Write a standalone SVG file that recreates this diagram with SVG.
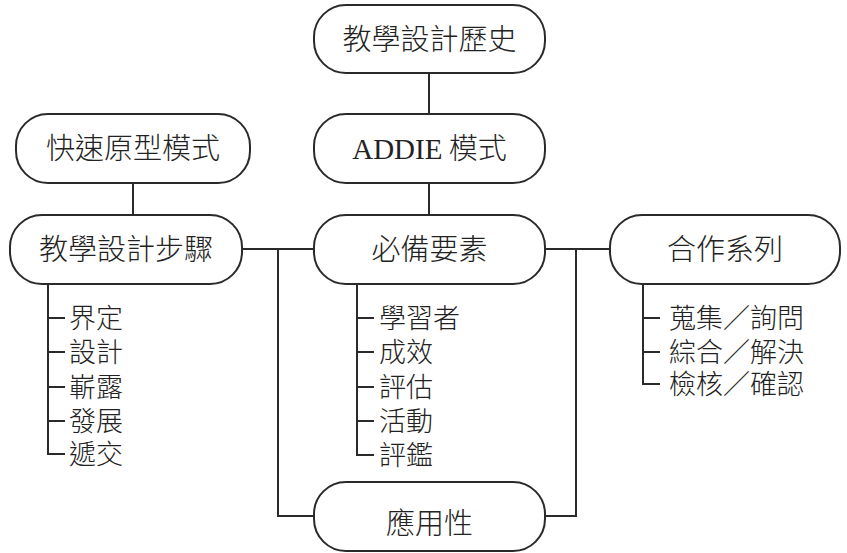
<svg xmlns="http://www.w3.org/2000/svg" width="847" height="553" viewBox="0 0 847 553">
<style>
.n{fill:#fff;stroke:#2a2a2a;stroke-width:2}
.c{fill:none;stroke:#2a2a2a;stroke-width:2}
.t{font-family:"Noto Sans CJK TC","Noto Sans CJK SC",sans-serif;font-weight:300;font-size:29px;fill:#222;text-anchor:middle}
.s{font-family:"Noto Sans CJK TC","Noto Sans CJK SC",sans-serif;font-weight:300;font-size:27px;fill:#222}
.r{font-family:"Liberation Serif","Noto Sans CJK TC",serif;font-weight:normal}
</style>
<rect width="847" height="553" fill="#fff"/>
<g id="connectors">
<path class="c" d="M429 73V113M429 183V215M133 183V215"/>
<path class="c" d="M242 249H313M278 249V516H313"/>
<path class="c" d="M545 249H610M576 249V516H545"/>
<path class="c" d="M48 284V454H65M48 318H65M48 352H65M48 387H65M48 421H65"/>
<path class="c" d="M357 284V455H374M357 318H374M357 352H374M357 387H374M357 421H374"/>
<path class="c" d="M643 283V384H660M643 318H660M643 352H660"/>
</g>
<g id="history"><rect class="n" x="314" y="5" width="231" height="68" rx="32" ry="32"/><text class="t" x="429.5" y="50">教學設計歷史</text></g>
<g id="addie"><rect class="n" x="314" y="114" width="231" height="69" rx="32" ry="32"/><text class="t" x="429.5" y="159"><tspan class="r">ADDIE</tspan> 模式</text></g>
<g id="rapid"><rect class="n" x="16" y="114" width="234" height="69" rx="32" ry="32"/><text class="t" x="133" y="159">快速原型模式</text></g>
<g id="steps"><rect class="n" x="10" y="215" width="232" height="69" rx="32" ry="32"/><text class="t" x="126" y="260">教學設計步驟</text></g>
<g id="elements"><rect class="n" x="314" y="215" width="231" height="69" rx="32" ry="32"/><text class="t" x="429.5" y="260">必備要素</text></g>
<g id="collab"><rect class="n" x="610" y="215" width="230" height="69" rx="32" ry="32"/><text class="t" x="725" y="260">合作系列</text></g>
<g id="apply"><rect class="n" x="314" y="482" width="231" height="69" rx="32" ry="32"/><text class="t" x="429.5" y="534">應用性</text></g>
<g id="steps-list">
<text class="s" x="69" y="328">界定</text>
<text class="s" x="69" y="362">設計</text>
<text class="s" x="69" y="397">嶄露</text>
<text class="s" x="69" y="431">發展</text>
<text class="s" x="69" y="464">遞交</text>
</g>
<g id="elements-list">
<text class="s" x="379" y="328">學習者</text>
<text class="s" x="379" y="362">成效</text>
<text class="s" x="379" y="397">評估</text>
<text class="s" x="379" y="431">活動</text>
<text class="s" x="379" y="465">評鑑</text>
</g>
<g id="collab-list">
<text class="s" x="669" y="328">蒐集／詢問</text>
<text class="s" x="669" y="362">綜合／解決</text>
<text class="s" x="669" y="394">檢核／確認</text>
</g>
</svg>
